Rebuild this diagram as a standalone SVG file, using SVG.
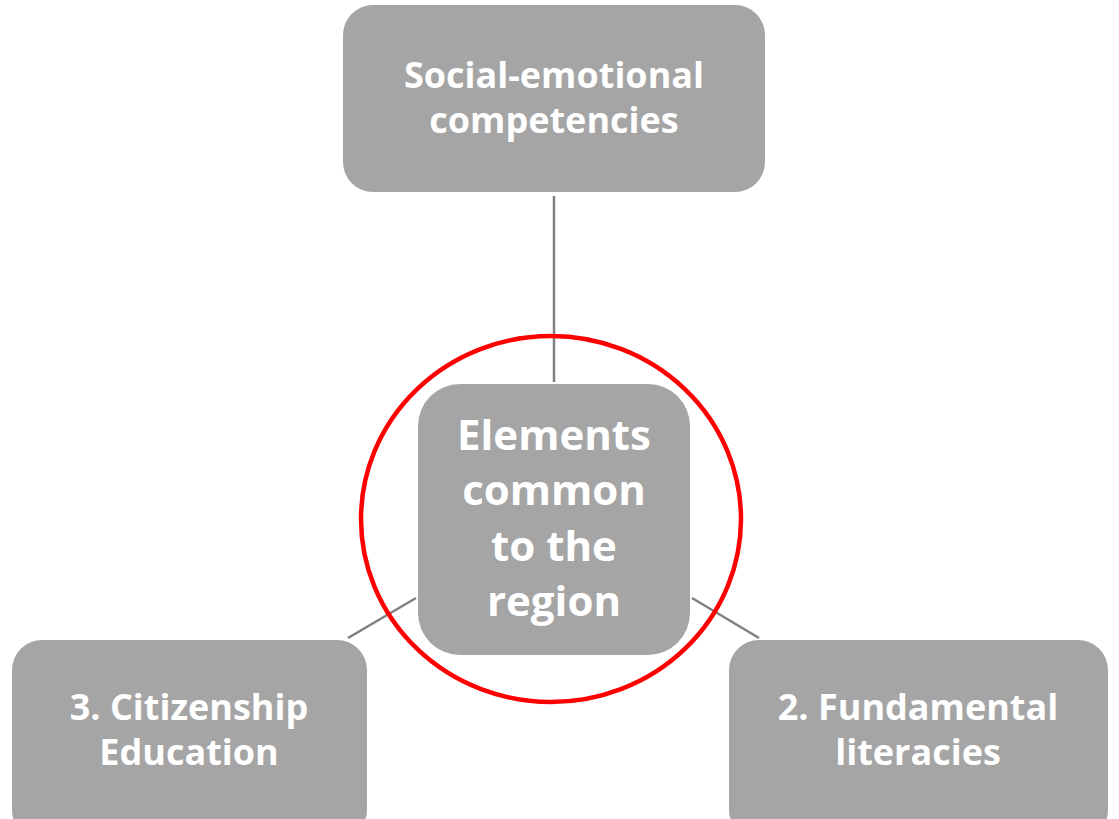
<svg xmlns="http://www.w3.org/2000/svg" width="1119" height="819" viewBox="0 0 1119 819">
<style>
.box{fill:#a5a5a5;}
.t{fill:#ffffff;font-family:"Open Sans","Liberation Sans",sans-serif;font-weight:700;text-anchor:middle;}
.s{font-size:36px;}
.c{font-size:42px;}
.ln{stroke:#808080;stroke-width:2.5;fill:none;}
</style>
<rect width="1119" height="819" fill="#ffffff"/>
<g id="connectors">
<line class="ln" x1="554" y1="196" x2="554" y2="382"/>
<line class="ln" x1="416" y1="598" x2="348" y2="638"/>
<line class="ln" x1="692" y1="598" x2="759" y2="638"/>
</g>
<g id="node-top">
<rect class="box" x="343" y="5" width="422" height="187" rx="30"/>
<text class="t s" x="554" y="88">Social-emotional</text>
<text class="t s" x="554" y="133">competencies</text>
</g>
<g id="node-center">
<rect class="box" x="418" y="384" width="272" height="271" rx="42"/>
<text class="t c" x="554" y="450">Elements</text>
<text class="t c" x="554" y="505">common</text>
<text class="t c" x="554" y="561">to the</text>
<text class="t c" x="554" y="616">region</text>
</g>
<g id="node-left">
<rect class="box" x="12" y="640" width="355" height="200" rx="30"/>
<text class="t s" x="189" y="720">3. Citizenship</text>
<text class="t s" x="189" y="765">Education</text>
</g>
<g id="node-right">
<rect class="box" x="729" y="640" width="379" height="200" rx="30"/>
<text class="t s" x="918" y="720">2. Fundamental</text>
<text class="t s" x="918" y="765">literacies</text>
</g>
<g id="highlight">
<ellipse cx="551" cy="519" rx="190" ry="183" fill="none" stroke="#ff0000" stroke-width="4.5"/>
</g>
</svg>
